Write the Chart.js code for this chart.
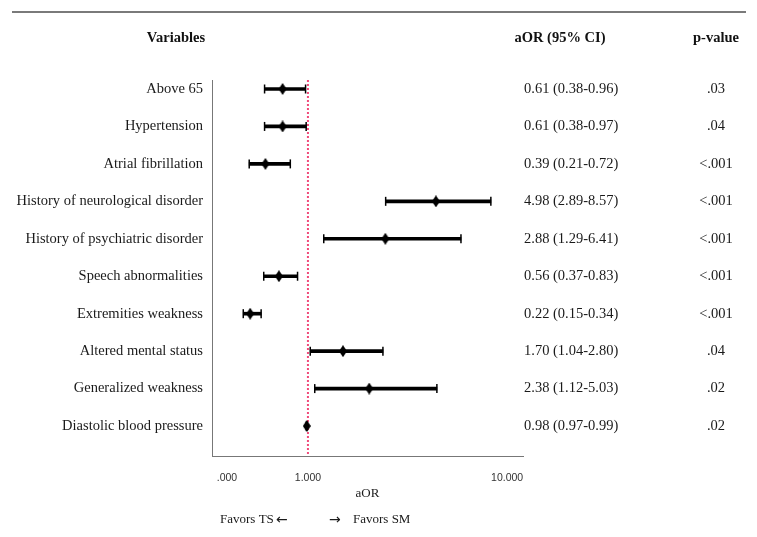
<!DOCTYPE html>
<html lang="en">
<head>
    <meta charset="UTF-8">
    <title>aOR forest plot</title>
    <script src="https://cdn.jsdelivr.net/npm/chart.js"></script>
    <style>
        body { margin: 0; background: #fff; }
        #wrap { width: 757px; height: 537px; position: relative; }
    </style>
</head>
<body>
    <div id="wrap"><canvas id="forestChart"></canvas></div>

    <script>
        const variables = [
            "Above 65",
            "Hypertension",
            "Atrial fibrillation",
            "History of neurological disorder",
            "History of psychiatric disorder",
            "Speech abnormalities",
            "Extremities weakness",
            "Altered mental status",
            "Generalized weakness",
            "Diastolic blood pressure"
        ];
        const aor = [0.61, 0.61, 0.39, 4.98, 2.88, 0.56, 0.22, 1.70, 2.38, 0.98];
        const ciLow = [0.38, 0.38, 0.21, 2.89, 1.29, 0.37, 0.15, 1.04, 1.12, 0.97];
        const ciHigh = [0.96, 0.97, 0.72, 8.57, 6.41, 0.83, 0.34, 2.80, 5.03, 0.99];
        const pValues = [".03", ".04", "<.001", "<.001", "<.001", "<.001", "<.001", ".04", ".02", ".02"];
        const xTickValues = [0, 1, 10];
        const xTickLabels = [".000", "1.000", "10.000"];
        const refValue = 1;

        const X_MIN = -0.12, X_MAX = 11.6;
        const Y_MIN = -0.24, Y_MAX = 9.8;

        const serif = "'Liberation Serif', 'Times New Roman', serif";

        // axis spaced on log(1 + aOR), like the original plot
        class Log1pScale extends Chart.Scale {
            determineDataLimits() {
                this.min = this.options.min;
                this.max = this.options.max;
            }
            buildTicks() {
                return xTickValues.map(v => ({ value: v }));
            }
            configure() {
                super.configure();
                this._lo = Math.log1p(this.min);
                this._span = Math.log1p(this.max) - this._lo;
            }
            getLabelForValue(v) {
                return v.toFixed(2);
            }
            getPixelForValue(v) {
                return this.getPixelForDecimal((Math.log1p(v) - this._lo) / this._span);
            }
            getValueForPixel(p) {
                return Math.expm1(this._lo + this.getDecimalForPixel(p) * this._span);
            }
        }
        Log1pScale.id = "log1p";
        Log1pScale.defaults = {};
        Chart.register(Log1pScale);

        // tall diamond marker
        function makeDiamond(w, h) {
            const c = document.createElement("canvas");
            c.width = w;
            c.height = h;
            const g = c.getContext("2d");
            g.fillStyle = "#000";
            g.beginPath();
            g.moveTo(w / 2, 0);
            g.lineTo(w, h / 2);
            g.lineTo(w / 2, h);
            g.lineTo(0, h / 2);
            g.closePath();
            g.fill();
            return c;
        }
        const diamond = makeDiamond(8, 12);

        const tablePlugin = {
            id: "tableText",
            afterDraw(chart) {
                const ctx = chart.ctx;
                const y = chart.scales.y;
                ctx.save();

                ctx.strokeStyle = "#7a7a7a";
                ctx.lineWidth = 2;
                ctx.beginPath();
                ctx.moveTo(12, 12);
                ctx.lineTo(746, 12);
                ctx.stroke();

                ctx.fillStyle = "#111";
                ctx.textBaseline = "middle";
                ctx.textAlign = "center";
                ctx.font = "bold 14.5px " + serif;
                ctx.fillText("Variables", 176, 38);
                ctx.fillText("aOR (95% CI)", 560, 38);
                ctx.fillText("p-value", 716, 38);

                ctx.font = "14.5px " + serif;
                ctx.fillStyle = "#1a1a1a";
                variables.forEach((_, i) => {
                    const py = y.getPixelForValue(i);
                    ctx.textAlign = "left";
                    ctx.fillText(aor[i].toFixed(2) + " (" + ciLow[i].toFixed(2) + "-" + ciHigh[i].toFixed(2) + ")", 524, py);
                    ctx.textAlign = "center";
                    ctx.fillText(pValues[i], 716, py);
                });

                // favours captions, arrows in a sans font for a bigger head
                const arrowFont = "14px 'DejaVu Sans', sans-serif";
                ctx.textAlign = "left";
                ctx.font = "13px " + serif;
                ctx.fillText("Favors TS", 220, 520);
                ctx.font = arrowFont;
                ctx.fillText("\u2190", 276, 520);
                ctx.fillText("\u2192", 329, 520);
                ctx.font = "13px " + serif;
                ctx.fillText("Favors SM", 353, 520);
                ctx.restore();
            }
        };

        const ctx = document.getElementById("forestChart").getContext("2d");
        const forestChart = new Chart(ctx, {
            data: {
                datasets: [
                    {
                        type: "line",
                        label: "reference",
                        data: [{ x: refValue, y: Y_MIN }, { x: refValue, y: Y_MAX }],
                        borderColor: "rgb(240, 74, 122)",
                        borderWidth: 2,
                        borderDash: [2, 2],
                        pointRadius: 0,
                        order: 3
                    },
                    {
                        type: "bar",
                        label: "95% CI",
                        data: variables.map((_, i) => ({ x: [ciLow[i], ciHigh[i]], y: i })),
                        backgroundColor: "#000",
                        borderWidth: 0,
                        barThickness: 3,
                        order: 2
                    },
                    {
                        type: "scatter",
                        label: "caps",
                        data: variables.flatMap((_, i) => [{ x: ciLow[i], y: i }, { x: ciHigh[i], y: i }]),
                        pointStyle: "line",
                        rotation: 90,
                        radius: 4.5,
                        borderWidth: 1.5,
                        borderColor: "#000",
                        order: 1
                    },
                    {
                        type: "scatter",
                        label: "aOR",
                        data: variables.map((_, i) => ({ x: aor[i], y: i })),
                        pointStyle: diamond,
                        order: 0
                    }
                ]
            },
            options: {
                indexAxis: "y",
                responsive: true,
                maintainAspectRatio: false,
                animation: false,
                layout: { padding: { top: 80, right: 234, left: 0, bottom: 0 } },
                plugins: {
                    legend: { display: false },
                    tooltip: { enabled: false }
                },
                scales: {
                    x: {
                        type: "log1p",
                        position: "bottom",
                        min: X_MIN,
                        max: X_MAX,
                        grid: { display: false, drawTicks: false },
                        border: { display: true, color: "#777", width: 1 },
                        ticks: {
                            padding: 16,
                            color: "#333",
                            font: { family: "'Liberation Sans', Arial, sans-serif", size: 10.5 },
                            callback: (v) => xTickLabels[xTickValues.indexOf(v)]
                        },
                        title: {
                            display: true,
                            text: "aOR",
                            color: "#1a1a1a",
                            font: { family: serif, size: 13 },
                            padding: { top: 0, bottom: 36 }
                        },
                        afterFit: (s) => { s.height = 81; }
                    },
                    y: {
                        type: "linear",
                        reverse: true,
                        offset: false,
                        min: Y_MIN,
                        max: Y_MAX,
                        grid: { display: false, drawTicks: false, offset: false },
                        border: { display: true, color: "#777", width: 1 },
                        afterBuildTicks: (s) => { s.ticks = variables.map((_, i) => ({ value: i })); },
                        ticks: {
                            padding: 9,
                            color: "#1a1a1a",
                            font: { family: serif, size: 14.5 },
                            callback: (v) => variables[v]
                        },
                        afterFit: (s) => { s.width = 212; }
                    }
                }
            },
            plugins: [tablePlugin]
        });
    </script>
</body>
</html>
